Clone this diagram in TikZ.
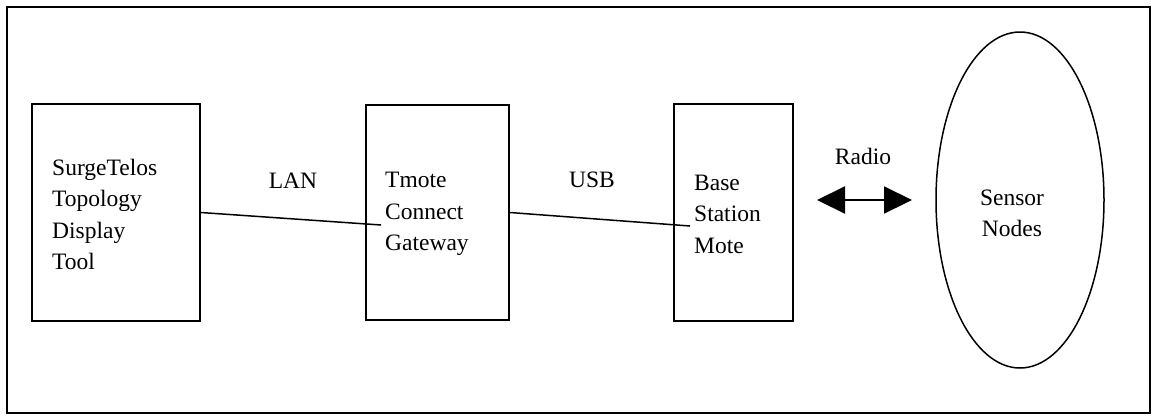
\documentclass[tikz,border=0pt]{standalone}
\usepackage{fontspec}
\setmainfont{Liberation Serif}
\usetikzlibrary{arrows.meta,shapes.geometric}
\begin{document}
\begin{tikzpicture}[x=1pt,y=-1pt,
  box/.style={draw,line width=1.6pt,inner sep=0pt},
  lbl/.style={font=\fontsize{23.5}{31.5}\selectfont,inner sep=0pt,align=left},
  conn/.style={line width=1.5pt},
  radio/.style={line width=2.2pt,{Triangle[length=28pt,width=27pt]}-{Triangle[length=28pt,width=27pt]}}]
\useasboundingbox (0,0) rectangle (1152,416);
\draw[line width=1.2pt] (7,7) rectangle (1150,413);
% boxes
\node[box,minimum width=168pt,minimum height=217pt] (b1) at (116,212.5) {};
\node[box,minimum width=143pt,minimum height=215pt] (b2) at (437.5,212.5) {};
\node[box,minimum width=119pt,minimum height=217pt] (b3) at (733.5,212.5) {};
\node[draw,ellipse,line width=1.5pt,minimum width=168pt,minimum height=336pt,inner sep=0pt] (sn) at (1020,200) {};
% texts
\node[lbl,anchor=west] (t1) at (52,214.5) {SurgeTelos\\Topology\\Display\\Tool};
\node[lbl,anchor=west] (t2) at (385,214) {Tmote\\Connect\\Gateway};
\node[lbl,anchor=west] (t3) at (694,214) {Base\\Station\\Mote};
\node[lbl,align=center] (t4) at (1012,213.5) {Sensor\\Nodes};
\node[lbl] (lan) at (293,181) {LAN};
\node[lbl] (usb) at (592,180) {USB};
\node[lbl] (rad) at (863,156) {Radio};
% connectors
\coordinate (lanend) at (381,225);
\coordinate (usbend) at (690,226);
\draw[conn] (b1.east) -- (lanend);
\draw[conn] (b2.east) -- (usbend);
\coordinate (ra) at (817,200);
\coordinate (rb) at (912,200);
\draw[radio] (ra) -- (rb);
\end{tikzpicture}
\end{document}
